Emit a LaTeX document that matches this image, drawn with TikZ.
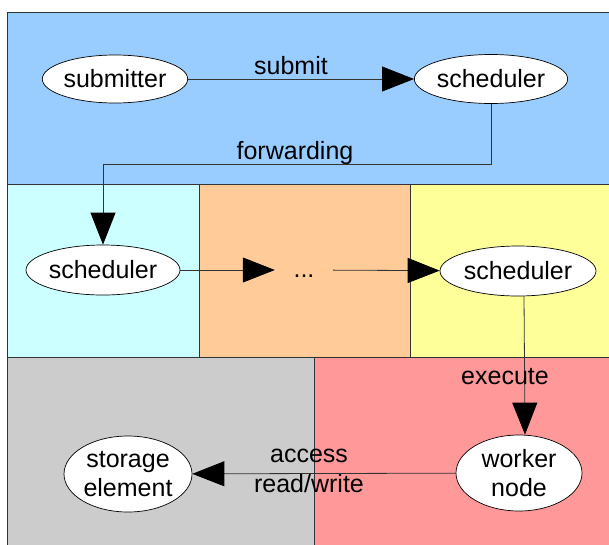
\documentclass[tikz,border=0pt]{standalone}
\usepackage{fontspec}
\setmainfont{Liberation Sans}
\usetikzlibrary{arrows.meta,shapes.geometric}
\definecolor{bandblue}{HTML}{99CCFF}
\definecolor{bandcyan}{HTML}{CCFFFF}
\definecolor{bandorange}{HTML}{FFCC99}
\definecolor{bandyellow}{HTML}{FFFF99}
\definecolor{bandgrey}{HTML}{CCCCCC}
\definecolor{bandred}{HTML}{FF9999}
\definecolor{edge}{HTML}{333333}
\tikzset{
  band/.style={draw=edge, line width=0.9pt},
  state/.style={ellipse, draw=black, fill=white, line width=0.7pt, inner sep=0pt,
    font=\fontsize{25}{29}\selectfont, align=center},
  lbl/.style={font=\fontsize{25}{30}\selectfont, align=center, inner sep=0pt},
  flow/.style={draw=edge, line width=0.8pt,
    -{Triangle[length=32pt,width=25pt,color=black]}}
}
\begin{document}
\begin{tikzpicture}[x=1pt, y=-1pt]
\useasboundingbox (0,0) rectangle (609,544);
% domain bands
\fill[bandblue]   (7,12)   rectangle (615,184);
\fill[bandcyan]   (7,184)  rectangle (199,357);
\fill[bandorange] (199,184) rectangle (410,357);
\fill[bandyellow] (410,184) rectangle (615,357);
\fill[bandgrey]   (7,357)  rectangle (314,550);
\fill[bandred]    (314,357) rectangle (615,550);
\draw[band] (615,12) -- (7,12) -- (7,550);
\draw[band] (7,184) -- (615,184);
\draw[band] (7,357) -- (615,357);
\draw[band] (199,184) -- (199,357);
\draw[band] (410,184) -- (410,357);
\draw[band] (314,357) -- (314,550);

% components
\node[state, minimum width=124pt, minimum height=48pt] (sub)  at (115,79)  {submitter};
\node[state, minimum width=144pt, minimum height=49pt] (sch1) at (491,79)  {scheduler};
\node[state, minimum width=154pt, minimum height=50pt] (sch2) at (103,270) {scheduler};
\node[lbl, minimum width=58pt, text height=14pt, text depth=0pt] (dots) at (304,270) {...};
\node[state, minimum width=156pt, minimum height=50pt] (sch3) at (518,271) {scheduler};
\node[state, minimum width=126pt, minimum height=76pt] (work) at (519,473) {worker\\node};
\node[state, minimum width=128pt, minimum height=76pt] (store) at (128,474) {storage\\element};
\coordinate (fwd) at (103,164);

% connectors
\draw[flow] (sub) -- (sch1);
\draw[flow] (sch1.south) |- (fwd) -- (sch2.north);
\draw[flow] (sch2) -- (dots);
\draw[flow] (dots) -- (sch3);
\draw[flow] ([xshift=6pt]sch3.south) -- ([xshift=6pt]work.north);
\draw[flow] (work) -- (store);

% connector labels
\node[lbl] (lsubmit)  at (291,66)  {submit};
\node[lbl] (lforward) at (295,153) {forwarding};
\node[lbl] (lexec)    at (505,377) {execute};
\node[lbl] (laccess)  at (309,471) {access\\read/write};
\end{tikzpicture}
\end{document}
